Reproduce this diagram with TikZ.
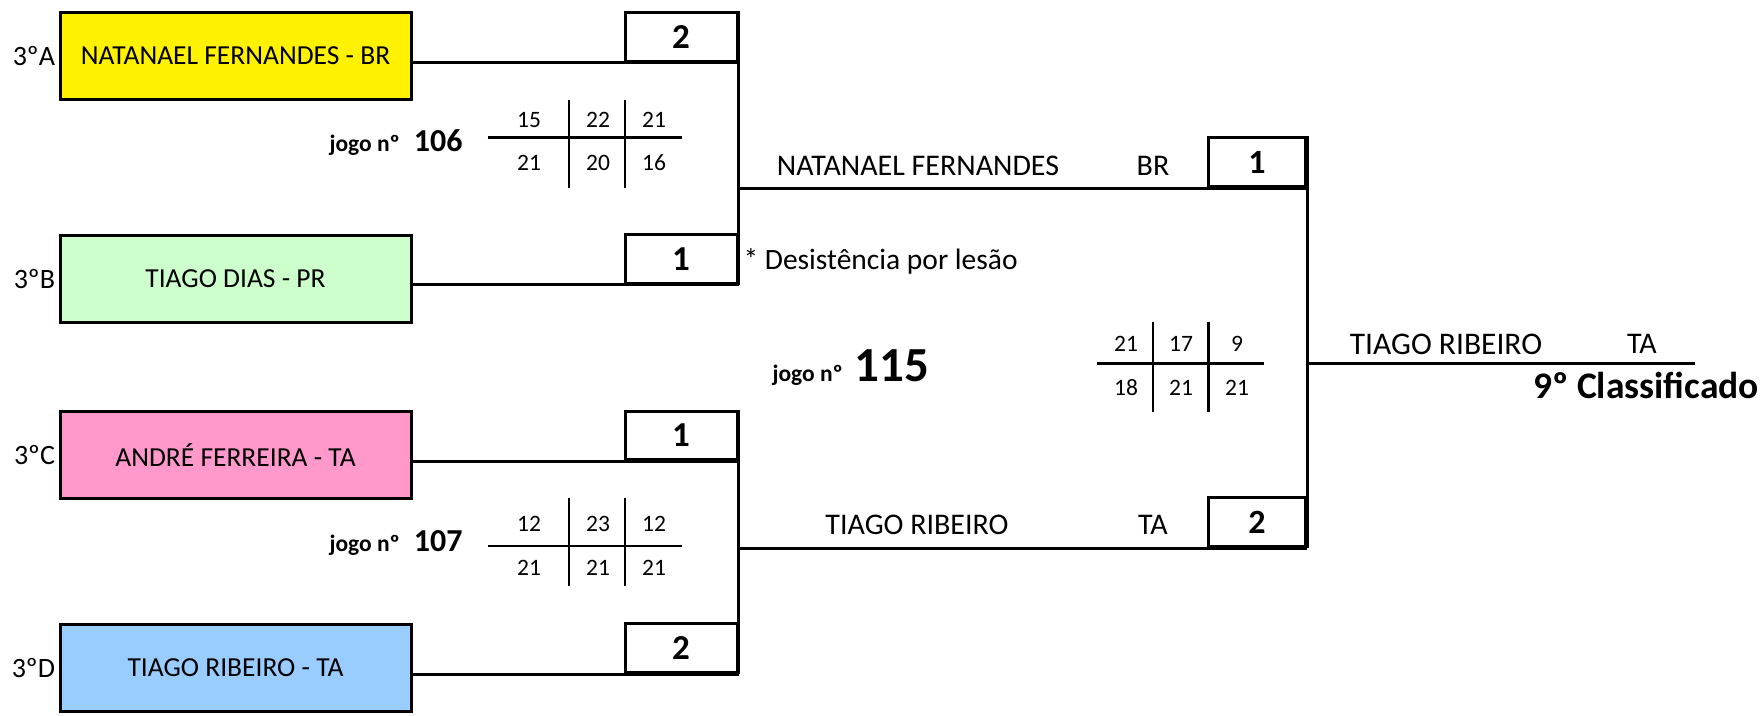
\documentclass[tikz,border=0pt]{standalone}
\usepackage{fontspec}
\setmainfont{Carlito}
\usepackage{tikz}
\usetikzlibrary{positioning, calc}
\definecolor{seedyellow}{HTML}{FFF200}
\definecolor{seedgreen}{HTML}{CCFFCC}
\definecolor{seedpink}{HTML}{FF99CC}
\definecolor{seedblue}{HTML}{99CCFF}
\tikzset{
	node distance = 2pt,
	player/.style={
		draw,
		line width=3pt,
		minimum width=351pt,
		minimum height=87pt,
		inner sep=0pt,
		font=\fontsize{27.5}{32}\selectfont
	},
	seed/.style={
		inner sep=0pt,
		font=\fontsize{28}{32}\selectfont
	},
	result/.style={
		draw,
		line width=3pt,
		minimum width=112pt,
		minimum height=48.7pt,
		inner sep=0pt,
		font=\bfseries\fontsize{35}{40}\selectfont
	},
	final result/.style={
		result,
		minimum width=97pt,
		minimum height=49pt,
		font=\bfseries\fontsize{34}{38}\selectfont
	},
	setscore/.style={
		inner sep=0pt,
		font=\fontsize{23.5}{28}\selectfont
	},
	winner/.style={
		inner sep=0pt,
		font=\fontsize{30}{34}\selectfont
	},
	jogo/.style={
		inner sep=0pt,
		font=\bfseries\fontsize{23.5}{26}\selectfont
	},
	grid/.style={
		line width=2.5pt
	}
}

\begin{document}
\begin{tikzpicture}[x=1pt, y=-1pt, line width=3pt]
\useasboundingbox (0,0) rectangle (1763,715);

% players
\node[player, fill=seedyellow] (pA) at (235.5,55.8) {NATANAEL FERNANDES - BR};
\node[player, fill=seedgreen] (pB) at (235.5,279) {TIAGO DIAS - PR};
\node[player, fill=seedpink] (pC) at (235.5,455) {ANDRÉ FERREIRA - TA};
\node[player, fill=seedblue] (pD) at (235.5,668) {TIAGO RIBEIRO - TA};
\node[seed, left=of pA] (lA) {3ºA};
\node[seed, left=of pB] (lB) {3ºB};
\node[seed, left=of pC] (lC) {3ºC};
\node[seed, left=of pD] (lD) {3ºD};

% first round results
\node[result] (sA) at (681,36.65) {2};
\node[result] (sB) at (681,259) {1};
\node[result] (sC) at (681,435.5) {1};
\node[result] (sD) at (681,648.3) {2};

\draw (pA.east |- sA.south) -- (sA.south east);
\draw (pB.east |- sB.south) -- (sB.south east);
\draw (pC.east |- sC.south) -- (sC.south east);
\draw (pD.east |- sD.south) -- (sD.south east);
\draw (sA.north east) -- (sB.south east);
\draw (sC.north east) -- (sD.south east);

% second round
\node[final result] (rAB) at (1257,162.2) {1};
\node[final result] (rCD) at (1257,522.2) {2};
\draw (sA.east |- rAB.south) -- (rAB.south east);
\draw (sC.east |- rCD.south) -- (rCD.south east);
\draw (rAB.north east) -- (rCD.south east);
\coordinate (champ) at (1695,363.3);
\draw (rAB.east |- champ) -- (champ);

\node[winner] (wAB) at (918,165.7) {NATANAEL FERNANDES};
\node[winner] (wABc) at (1153,165.7) {BR};
\node[winner] (wCD) at (917,525) {TIAGO RIBEIRO};
\node[winner] (wCDc) at (1153,525) {TA};
\node[winner, font=\fontsize{31.5}{36}\selectfont] (champname) at (1446,344) {TIAGO RIBEIRO};
\node[winner] (champclub) at (1642,344) {TA};
\node[inner sep=0pt, font=\bfseries\fontsize{37.5}{42}\selectfont] (place) at (1646,385) {9º Classificado};
\node[seed, anchor=west, font=\fontsize{29.5}{34}\selectfont] (note) at (742,261.7) {* Desistência por lesão};

% games
\node[jogo] (g106) at (396,143) {jogo nº\hspace{14pt}{\fontsize{32}{36}\selectfont 106}};
\node[jogo] (g107) at (396,543) {jogo nº\hspace{14pt}{\fontsize{32}{36}\selectfont 107}};
\node[jogo] (g115) at (851,368) {jogo nº\hspace{12pt}{\fontsize{49}{54}\selectfont 115}};

% set scores
\draw[grid] (487.5,137.7) -- (682,137.7);
\draw[grid] (569,100) -- (569,187.7);
\draw[grid] (625,100) -- (625,187.7);
\foreach \x/\t/\b [count=\i] in {529/15/21, 598/22/20, 654/21/16} {
	\node[setscore] (t106-\i) at (\x,120) {\t};
	\node[setscore] (b106-\i) at (\x,163) {\b};
}

\draw[grid] (487.5,546) -- (682,546);
\draw[grid] (569,498) -- (569,585.7);
\draw[grid] (625,498) -- (625,585.7);
\foreach \x/\t/\b [count=\i] in {529/12/21, 598/23/21, 654/12/21} {
	\node[setscore] (t107-\i) at (\x,524) {\t};
	\node[setscore] (b107-\i) at (\x,568) {\b};
}

\draw[grid] (1096.6,363.3) -- (1264,363.3);
\draw[grid] (1153,321.7) -- (1153,411.7);
\draw[grid] (1208.5,321.7) -- (1208.5,411.7);
\foreach \x/\t/\b [count=\i] in {1126/21/18, 1181/17/21, 1237/9/21} {
	\node[setscore] (t115-\i) at (\x,344) {\t};
	\node[setscore] (b115-\i) at (\x,388) {\b};
}
\end{tikzpicture}
\end{document}
